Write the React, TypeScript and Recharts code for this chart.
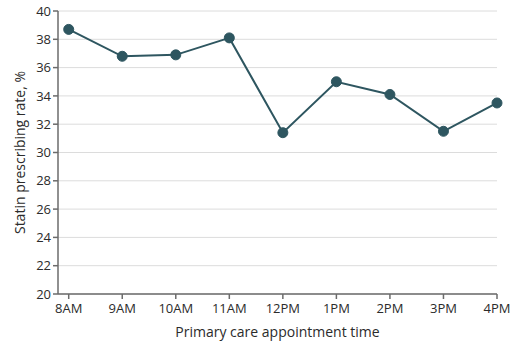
import { LineChart, Line, XAxis, YAxis, CartesianGrid, Label } from "recharts";

const times = ["8AM", "9AM", "10AM", "11AM", "12PM", "1PM", "2PM", "3PM", "4PM"];
const rates = [38.7, 36.8, 36.9, 38.1, 31.4, 35.0, 34.1, 31.5, 33.5];
const yTicks = [20, 22, 24, 26, 28, 30, 32, 34, 36, 38, 40];

const data = times.map((t, i) => ({ idx: i, time: t, rate: rates[i] }));

const FONT = "'Open Sans', 'Noto Sans', sans-serif";
const TEXT = "#2b2b2b";
const AXIS = "#6b6b6b";
const LINE = "#2e5660";

export default function App() {
  return (
    <div style={{ position: "absolute", left: 0, top: 0, background: "#fff", fontFamily: FONT }}>
      <LineChart width={524} height={349} data={data} margin={{ top: 11, right: 27, bottom: 0, left: 0 }}>
        <CartesianGrid vertical={false} stroke="#dcdcdc" strokeWidth={1} />
        <XAxis
          dataKey="idx"
          type="number"
          domain={[-0.2, 8]}
          ticks={[0, 1, 2, 3, 4, 5, 6, 7, 8]}
          tickFormatter={(v) => times[v]}
          stroke={AXIS}
          strokeWidth={1.5}
          tickSize={5}
          tickMargin={5}
          height={55}
          tick={{ fill: TEXT, fontSize: 13, fontFamily: FONT }}
          interval={0}
        >
          <Label value="Primary care appointment time" position="insideBottom" offset={12} fill={TEXT} fontSize={14} fontFamily={FONT} />
        </XAxis>
        <YAxis
          domain={[20, 40]}
          ticks={yTicks}
          stroke={AXIS}
          strokeWidth={1.5}
          tickSize={5}
          width={58}
          tick={{ fill: TEXT, fontSize: 13, fontFamily: FONT }}
          interval={0}
        >
          <Label value="Statin prescribing rate, %" angle={-90} position="insideLeft" offset={20} style={{ textAnchor: "middle" }} fill={TEXT} fontSize={14} fontFamily={FONT} />
        </YAxis>
        <Line
          dataKey="rate"
          stroke={LINE}
          strokeWidth={2}
          dot={{ r: 5, fill: LINE, stroke: LINE, strokeWidth: 1 }}
          isAnimationActive={false}
        />
      </LineChart>
    </div>
  );
}
